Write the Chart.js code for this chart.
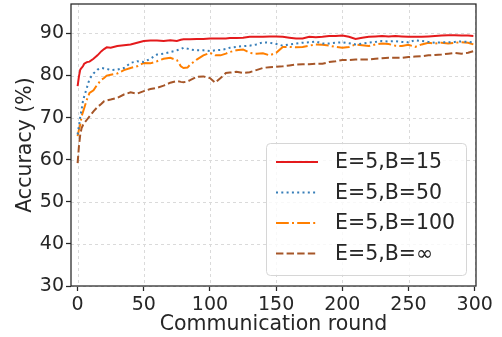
<!DOCTYPE html>
<html>
<head>
<meta charset="utf-8">
<script src="https://cdn.jsdelivr.net/npm/chart.js@4/dist/chart.umd.min.js"></script>
<style>
  html, body { margin: 0; padding: 0; background: #fff; }
  #chart { display: block; }
</style>
</head>
<body>
<canvas id="chart" width="502" height="337"></canvas>
<script>
const rounds = [0, 1, 2, 3, 4, 5, 7, 9, 12, 15, 18, 20, 22, 25, 30, 35, 40, 45, 50, 55, 60, 65, 70, 75,
  78, 80, 83, 85, 90, 95, 100, 104, 108, 112, 115, 120, 125, 130, 135, 140, 145, 150, 155, 160,
  165, 170, 175, 180, 185, 190, 195, 200, 205, 210, 215, 220, 225, 230, 235, 240, 245, 250, 255,
  260, 265, 270, 275, 280, 285, 290, 295, 299];

const accB15 = [77.5, 79.8, 81.4, 81.8, 82.2, 82.8, 83.2, 83.3, 84, 84.8, 85.8, 86.3, 86.7, 86.6, 87, 87.2,
  87.4, 87.8, 88.2, 88.3, 88.3, 88.2, 88.4, 88.2, 88.5, 88.6, 88.6, 88.6, 88.7, 88.7, 88.8, 88.8, 88.8,
  88.8, 88.9, 88.9, 89.0, 89.2, 89.2, 89.2, 89.3, 89.3, 89.2, 89.0, 88.8, 88.8, 89.2, 89.1, 89.2, 89.4,
  89.4, 89.5, 89.2, 88.7, 89.0, 89.2, 89.3, 89.4, 89.3, 89.4, 89.3, 89.2, 89.2, 89.2, 89.3, 89.4, 89.5,
  89.6, 89.6, 89.5, 89.5, 89.4];

const accB50 = [66, 68, 70.3, 71.9, 73.9, 75.1, 77.1, 79.2, 80.5, 81.4, 81.8, 81.7, 81.6, 81.3, 81.4, 81.8,
  83, 83.4, 83.2, 84, 85, 85.2, 85.6, 86, 86.3, 86.6, 86.4, 86.2, 86, 86, 85.8, 86, 86.1, 86.3, 86.6,
  86.8, 87, 87.1, 87.4, 87.9, 87.8, 87.5, 87.1, 87.4, 87.6, 87.8, 87.9, 88.1, 87.6, 87.6, 87.8, 87.9,
  87.7, 87.4, 87.6, 87.8, 88.0, 88.2, 88.1, 88.2, 88.0, 87.9, 88.4, 88.2, 88.0, 87.8, 87.9, 87.9, 88.0,
  88.1, 88.0, 87.9];

const accB100 = [65.6, 67.1, 68.3, 70.3, 71.3, 72.3, 74.3, 75.9, 76.5, 77.9, 79, 79.4, 80, 80.2, 80.5, 81.3,
  81.8, 82.2, 83, 82.9, 83.4, 84, 84.2, 83.7, 82.2, 81.8, 81.9, 82.6, 83.8, 84.8, 85.4, 84.8, 84.8, 85.2,
  85.6, 86, 86.2, 85.4, 85.2, 85.3, 84.8, 85.4, 86.8, 86.8, 86.7, 86.8, 87.1, 87.4, 87.3, 87.1, 86.8,
  86.6, 86.8, 87.4, 87.2, 87, 87.4, 87.6, 87.5, 87.1, 87, 87.3, 86.8, 87.4, 87.8, 87.6, 87.8, 87.6, 87.8,
  87.9, 87.8, 87.4];

const accBInf = [59.2, 63.2, 66, 67.5, 68.2, 68.7, 69.5, 70.3, 71.5, 72.5, 73.3, 73.9, 74.1, 74.3, 74.7, 75.5,
  76, 75.7, 76.3, 76.8, 77.1, 77.6, 78.3, 78.7, 78.5, 78.4, 78.6, 78.9, 79.7, 79.8, 79.4, 78.3, 79.4, 80.6,
  80.7, 80.9, 80.6, 80.8, 81.3, 81.8, 82, 82.1, 82.2, 82.4, 82.6, 82.7, 82.7, 82.8, 82.8, 83.2, 83.4,
  83.7, 83.7, 83.8, 83.8, 83.8, 84, 84.1, 84.2, 84.2, 84.2, 84.4, 84.5, 84.6, 84.8, 84.9, 85, 85.2, 85.4,
  85.2, 85.4, 85.8];

const seriesLabels = ['E=5,B=15', 'E=5,B=50', 'E=5,B=100', 'E=5,B=\u221E'];
const xTicks = [0, 50, 100, 150, 200, 250, 300];
const yTicks = [30, 40, 50, 60, 70, 80, 90];

const FONT = "'DejaVu Sans', sans-serif";
const toPoints = vals => rounds.map((r, i) => ({ x: r, y: vals[i] }));

// dashed light grid, drawn from the scales' own tick positions
const dashedGrid = {
  id: 'dashedGrid',
  beforeDatasetsDraw(chart) {
    const a = chart.chartArea, ctx = chart.ctx;
    const sx = chart.scales.x, sy = chart.scales.y;
    ctx.save();
    ctx.strokeStyle = '#dadada';
    ctx.lineWidth = 1;
    ctx.setLineDash([3, 3]);
    ctx.beginPath();
    xTicks.forEach(v => {
      const px = Math.round(sx.getPixelForValue(v)) + 0.5;
      ctx.moveTo(px, a.top);
      ctx.lineTo(px, a.bottom);
    });
    yTicks.forEach(v => {
      const py = Math.round(sy.getPixelForValue(v)) + 0.5;
      ctx.moveTo(a.left, py);
      ctx.lineTo(a.right, py);
    });
    ctx.stroke();
    ctx.restore();
  }
};

// legend drawn inside the plot, like matplotlib's "lower right"
const boxLegend = {
  id: 'boxLegend',
  afterDraw(chart) {
    const ctx = chart.ctx;
    const x0 = 266, y0 = 143, w = 200, h = 132;
    ctx.save();
    ctx.beginPath();
    ctx.roundRect(x0 + 0.5, y0 + 0.5, w, h, 4);
    ctx.fillStyle = 'rgba(255,255,255,0.8)';
    ctx.fill();
    ctx.strokeStyle = '#d6d6d6';
    ctx.lineWidth = 1;
    ctx.stroke();
    chart.data.datasets.forEach((ds, i) => {
      const cy = 162 + i * 30.5;
      ctx.beginPath();
      ctx.setLineDash(ds.borderDash || []);
      ctx.strokeStyle = ds.borderColor;
      ctx.lineWidth = ds.borderWidth;
      ctx.moveTo(276, cy);
      ctx.lineTo(318, cy);
      ctx.stroke();
      ctx.setLineDash([]);
      ctx.fillStyle = '#262626';
      ctx.font = '20.5px ' + FONT;
      ctx.textBaseline = 'middle';
      ctx.fillText(ds.label, 335, cy + 1);
    });
    ctx.restore();
  }
};

// dark frame around the plot area
const frame = {
  id: 'frame',
  afterDatasetsDraw(chart) {
    const a = chart.chartArea, ctx = chart.ctx;
    ctx.save();
    ctx.strokeStyle = '#262626';
    ctx.lineWidth = 1.25;
    ctx.strokeRect(a.left, a.top, a.right - a.left, a.bottom - a.top);
    ctx.restore();
  }
};

new Chart(document.getElementById('chart'), {
  type: 'line',
  data: {
    datasets: [
      { label: seriesLabels[0], data: toPoints(accB15), borderColor: '#e41a1c', borderWidth: 2 },
      { label: seriesLabels[1], data: toPoints(accB50), borderColor: '#377eb8', borderWidth: 2, borderDash: [2, 3.3] },
      { label: seriesLabels[2], data: toPoints(accB100), borderColor: '#ff7f00', borderWidth: 2, borderDash: [12.8, 3.2, 2, 3.2] },
      { label: seriesLabels[3], data: toPoints(accBInf), borderColor: '#a65628', borderWidth: 2, borderDash: [7.4, 3.2] }
    ]
  },
  options: {
    responsive: false,
    animation: false,
    events: [],
    layout: { padding: { top: 4, right: 26, left: 0, bottom: 0 } },
    elements: { point: { radius: 0 }, line: { tension: 0, fill: false } },
    plugins: { legend: { display: false }, tooltip: { enabled: false } },
    scales: {
      x: {
        type: 'linear',
        min: -5,
        max: 301,
        afterBuildTicks: s => { s.ticks = xTicks.map(v => ({ value: v })); },
        afterFit: s => { s.height = 51; s.paddingLeft = 0; s.paddingRight = 0; },
        ticks: { color: '#262626', font: { family: FONT, size: 19 }, padding: 3, maxRotation: 0 },
        grid: { drawOnChartArea: false, tickLength: 5, tickColor: '#262626', tickWidth: 1.25 },
        border: { display: false },
        title: { display: true, text: 'Communication round', color: '#262626', font: { family: FONT, size: 20.5 }, padding: { top: 0, bottom: 0 } }
      },
      y: {
        min: 30,
        max: 97,
        afterBuildTicks: s => { s.ticks = yTicks.map(v => ({ value: v })); },
        afterFit: s => { s.width = 71; s.paddingTop = 0; s.paddingBottom = 0; },
        ticks: { color: '#262626', font: { family: FONT, size: 19 }, padding: 2 },
        grid: { drawOnChartArea: false, tickLength: 5, tickColor: '#262626', tickWidth: 1.25 },
        border: { display: false },
        title: { display: true, text: 'Accuracy (%)', color: '#262626', font: { family: FONT, size: 20.5 }, padding: { top: 13, bottom: 4 } }
      }
    }
  },
  plugins: [dashedGrid, frame, boxLegend]
});
</script>
</body>
</html>
